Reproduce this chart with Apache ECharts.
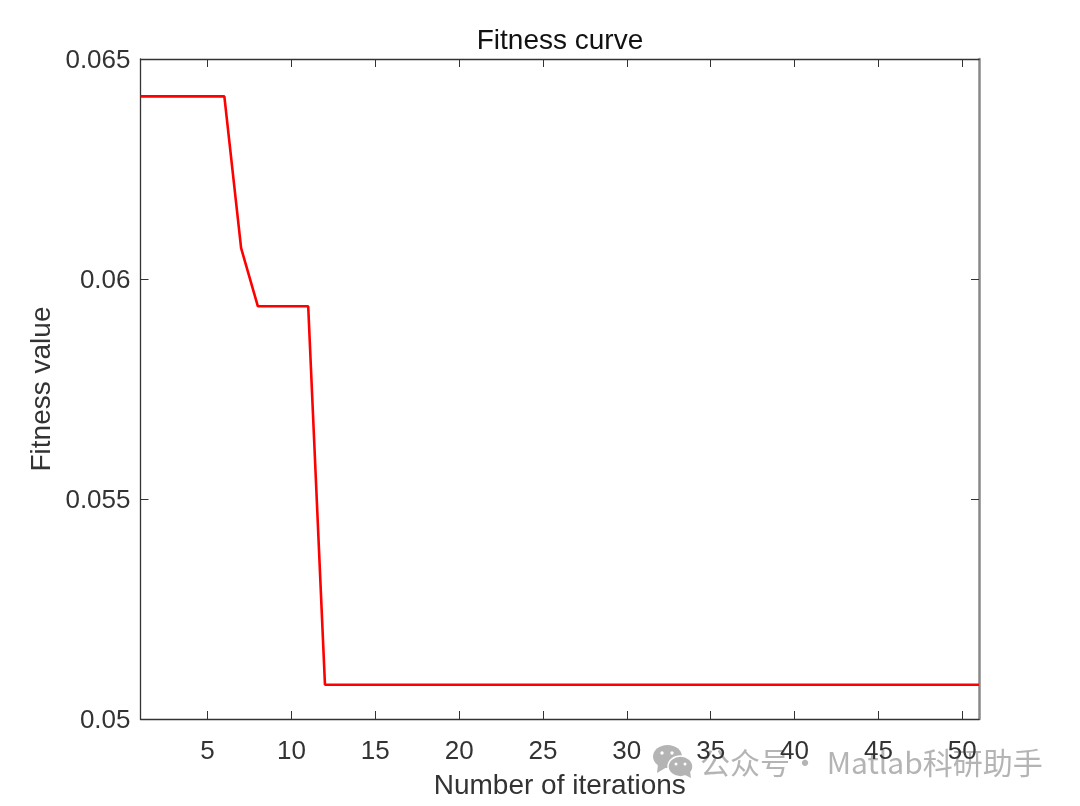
<!DOCTYPE html>
<html><head><meta charset="utf-8">
<style>html,body{margin:0;padding:0;background:#fff}#c{width:1080px;height:806px}</style>
<script src="https://cdn.jsdelivr.net/npm/echarts@6/dist/echarts.min.js"></script>
</head><body><div id="c"></div>
<script>
const iterations=[1,2,3,4,5,6,7,8,9,10,11,12,13,14,15,16,17,18,19,20,21,22,23,24,25,26,27,28,29,30,31,32,33,34,35,36,37,38,39,40,41,42,43,44,45,46,47,48,49,50,51];
const fitness=[0.06415,0.06415,0.06415,0.06415,0.06415,0.06415,0.0607,0.05938,0.05938,0.05938,0.05938,0.05078,0.05078,0.05078,0.05078,0.05078,0.05078,0.05078,0.05078,0.05078,0.05078,0.05078,0.05078,0.05078,0.05078,0.05078,0.05078,0.05078,0.05078,0.05078,0.05078,0.05078,0.05078,0.05078,0.05078,0.05078,0.05078,0.05078,0.05078,0.05078,0.05078,0.05078,0.05078,0.05078,0.05078,0.05078,0.05078,0.05078,0.05078,0.05078,0.05078];
const xTicks=[5,10,15,20,25,30,35,40,45,50];
const yTicks=[0.05,0.055,0.06,0.065];
const yTickLabels={0.05:'0.05',0.055:'0.055',0.06:'0.06',0.065:'0.065'};
const font='"Liberation Sans", Arial, sans-serif';
const ink='#333333';
const mark='#b4b4b4';
const xBase=(pos,show)=>({type:'value',position:pos,min:1,max:51,
  axisLine:{show:true,onZero:false,lineStyle:{color:ink,width:1.3}},
  axisTick:{show:true,inside:true,length:8,customValues:xTicks,lineStyle:{color:ink,width:1}},
  axisLabel:{show,customValues:xTicks,color:ink,fontFamily:font,fontSize:26,margin:20},
  splitLine:{show:false}});
const yBase=(pos,show,lineColor,lineWidth)=>({type:'value',position:pos,min:0.05,max:0.065,
  axisLine:{show:true,onZero:false,lineStyle:{color:lineColor,width:lineWidth}},
  axisTick:{show:true,inside:true,length:8,customValues:yTicks,lineStyle:{color:ink,width:1}},
  axisLabel:{show,customValues:yTicks,color:ink,fontFamily:font,fontSize:26,margin:10,verticalAlign:'top',lineHeight:4,formatter:v=>yTickLabels[v]||String(v)},
  splitLine:{show:false}});
const chart=echarts.init(document.getElementById('c'),null,{renderer:'canvas'});
chart.setOption({
  animation:false,backgroundColor:'#ffffff',
  title:{text:'Fitness curve',left:555,top:22,textAlign:'center',textStyle:{color:'#111',fontFamily:font,fontSize:28,fontWeight:'normal'}},
  grid:{left:140.5,right:101,top:59,bottom:87,containLabel:false,outerBoundsMode:'none'},
  xAxis:[Object.assign(xBase('bottom',true),{name:'Number of iterations',nameLocation:'middle',nameGap:53,nameMoveOverlap:false,nameTextStyle:{color:ink,fontFamily:font,fontSize:28}}),xBase('top',false)],
  yAxis:[Object.assign(yBase('left',true,ink,1.3),{name:'Fitness value',nameLocation:'middle',nameGap:84,nameMoveOverlap:false,nameTextStyle:{color:ink,fontFamily:font,fontSize:28}}),yBase('right',false,'#888888',2.5)],
  series:[{type:'line',xAxisIndex:0,yAxisIndex:0,showSymbol:false,smooth:false,clip:true,
    data:iterations.map((x,i)=>[x,fitness[i]]),lineStyle:{color:'#ff0000',width:2.6}}],
  graphic:[
    {type:'ellipse',silent:true,shape:{cx:667.5,cy:756.5,rx:14.5,ry:11.5},style:{fill:mark}},
    {type:'polygon',silent:true,shape:{points:[[658,764],[657,773],[667,767]]},style:{fill:mark}},
    {type:'ellipse',silent:true,shape:{cx:680.5,cy:766.5,rx:12.5,ry:10.5},style:{fill:mark,stroke:'#ffffff',lineWidth:1.5}},
    {type:'polygon',silent:true,shape:{points:[[685,775],[691,778],[690,771]]},style:{fill:mark}},
    {type:'circle',silent:true,shape:{cx:662,cy:753,r:1.7},style:{fill:'#fff'}},
    {type:'circle',silent:true,shape:{cx:672,cy:753,r:1.7},style:{fill:'#fff'}},
    {type:'circle',silent:true,shape:{cx:676,cy:764,r:1.5},style:{fill:'#fff'}},
    {type:'circle',silent:true,shape:{cx:685,cy:764,r:1.5},style:{fill:'#fff'}},
    {type:'text',silent:true,x:700,y:748,style:{text:'公众号· Matlab科研助手',fill:mark,font:'30px "Noto Sans CJK SC", "Noto Sans", sans-serif'}}
  ]
});
</script></body></html>
